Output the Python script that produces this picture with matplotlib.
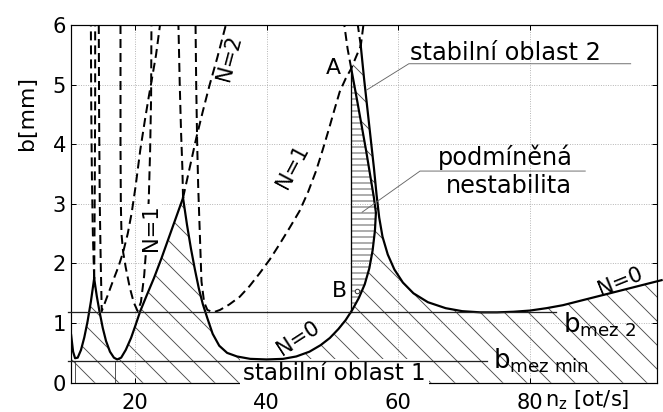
import matplotlib.pyplot as plt
import numpy as np

plt.rcParams['font.family'] = ['DejaVu Sans']
plt.rcParams['hatch.linewidth'] = 0.9

# plne ciary - hranice stability (laloky)
s1_x = [10.3, 10.6, 10.9, 11.3, 11.8, 12.3, 12.8, 13.3, 13.8]
s1_b = [0.80, 0.52, 0.41, 0.42, 0.55, 0.76, 1.03, 1.36, 1.75]

s2_x = [13.8, 14.2, 14.6, 15.1, 15.6, 16.2, 16.8, 17.3, 17.9, 18.6, 19.4, 20.1,
        20.8, 21.8, 22.9, 24.0, 25.1, 26.2, 27.3]
s2_b = [1.75, 1.45, 1.20, 0.92, 0.70, 0.52, 0.42, 0.39, 0.42, 0.55, 0.75, 0.97,
        1.20, 1.47, 1.76, 2.08, 2.42, 2.76, 3.10]

s3_x = [27.3, 27.9, 28.5, 29.1, 29.7, 30.3, 31.0, 31.8, 32.8, 34.0, 35.5, 37.5,
        40.0, 42.5, 44.5, 46.5, 48.2, 49.6, 50.9, 52.0, 53.0, 54.0, 54.9, 55.6,
        56.1, 56.45, 56.6, 56.3, 55.7, 55.1, 54.45, 53.8, 53.3, 52.85]
s3_b = [3.10, 2.65, 2.25, 1.90, 1.58, 1.32, 1.08, 0.82, 0.62, 0.50, 0.44, 0.40,
        0.39, 0.40, 0.44, 0.52, 0.63, 0.75, 0.90, 1.05, 1.22, 1.42, 1.65, 1.92,
        2.22, 2.55, 2.85, 3.10, 3.50, 3.90, 4.30, 4.70, 5.00, 5.27]

s4_x = [54.3, 54.8, 55.3, 55.8, 56.3, 56.7, 57.1, 57.6, 58.4, 59.4, 60.7, 62.3,
        64.5, 67.2, 69.7, 72.5, 75.0, 77.5, 80.0, 82.5, 85.0, 87.5, 90.0, 92.5,
        95.0, 97.5, 100.0]
s4_b = [5.65, 5.10, 4.60, 4.10, 3.60, 3.15, 2.77, 2.45, 2.15, 1.90, 1.68, 1.50,
        1.35, 1.25, 1.20, 1.18, 1.18, 1.19, 1.21, 1.25, 1.30, 1.37, 1.44, 1.51,
        1.58, 1.65, 1.72]

# prerusovane ciary
dashed = [
    ([13.8, 13.6, 13.45, 13.35, 13.3], [1.75, 2.5, 3.5, 4.7, 6.0]),
    ([13.8, 13.85, 13.9, 13.95, 13.95], [1.75, 2.5, 3.5, 4.7, 6.0]),
    ([14.5, 14.55, 14.65, 14.8, 14.95, 15.8, 16.7, 17.5, 18.2, 18.9, 19.5, 20.1,
      20.8, 21.5, 22.1, 22.5, 23.2, 23.8],
     [6.0, 4.5, 3.0, 2.0, 1.2, 1.45, 1.72, 1.95, 2.19, 2.5, 2.85, 3.3,
      3.9, 4.4, 4.8, 5.05, 5.5, 6.0]),
    ([17.8, 17.8, 17.85, 17.95, 18.2, 18.6, 19.2, 19.8, 20.4, 20.9, 21.4, 21.8,
      22.1, 22.3, 22.45, 22.5],
     [6.0, 4.0, 3.0, 2.5, 2.19, 1.93, 1.6, 1.35, 1.2, 1.35, 1.8, 2.4,
      3.1, 3.9, 4.8, 6.0]),
    ([27.3, 27.2, 27.0, 26.8, 26.6], [3.1, 3.6, 4.2, 5.0, 6.0]),
    ([27.3, 27.7, 28.4, 29.3, 30.3, 31.3, 32.5, 33.8],
     [3.1, 3.3, 3.65, 4.1, 4.55, 4.98, 5.45, 6.0]),
    ([29.2, 29.3, 29.45, 29.6, 29.85, 30.1, 30.5, 31.0, 31.9, 32.9, 34.3, 35.9,
      37.4, 38.9, 40.5, 42.0, 43.5, 45.0, 46.3, 47.5, 48.5, 49.5, 50.3, 51.1,
      52.0, 52.85, 53.6, 54.3, 54.7],
     [6.0, 5.0, 4.0, 3.3, 2.5, 1.7, 1.35, 1.22, 1.18, 1.22, 1.31, 1.44,
      1.62, 1.83, 2.07, 2.33, 2.6, 2.88, 3.2, 3.55, 3.9, 4.27, 4.58, 4.88,
      5.1, 5.27, 5.47, 5.65, 6.0]),
    ([52.85, 52.3, 51.8], [5.27, 5.6, 6.0]),
    ([54.3, 53.85], [5.65, 6.0]),
]

b_mez_min = 0.37
b_mez_2 = 1.18
ab_x = 52.85          # ciara A-B
b_point = (53.8, 1.53)
lobe_min_x = [10.9, 17.0, 39.0]

fig = plt.figure(figsize=(663 / 72, 412 / 72), dpi=72)
ax = fig.add_axes([71 / 663, 1 - 382.7 / 412, (657 - 71) / 663, (382.7 - 25) / 412])

# stabilna oblast - sikme srafovanie
px = [10.3] + s1_x + s2_x[1:] + s3_x[1:] + s4_x + [100.0, 10.3]
py = [0.0] + s1_b + s2_b[1:] + s3_b[1:] + s4_b + [0.0, 0.0]
ax.fill(px, py, facecolor='none', edgecolor='#4d4d4d', hatch='\\', linewidth=0, zorder=1)

# podmienena nestabilita - vodorovne srafovanie
s3x = np.array(s3_x)
s3b = np.array(s3_b)
mask = s3x >= ab_x
hx = [ab_x] + list(s3x[mask]) + [ab_x]
hy = [s3b[mask][0]] + list(s3b[mask]) + [s3b[mask][-1]]
ax.fill(hx, hy, facecolor='none', edgecolor='#4d4d4d', hatch='--', linewidth=0, zorder=1)

for xs, bs in [(s1_x, s1_b), (s2_x, s2_b), (s3_x, s3_b)]:
    ax.plot(xs, bs, color='black', lw=2.2, zorder=4)
ax.plot(s4_x, s4_b, color='black', lw=2.2, zorder=4, clip_on=False)

for xs, bs in dashed:
    ax.plot(xs, bs, color='black', lw=2.0, dashes=(4.5, 2.5), zorder=4)

ax.plot([9.8, 84.0], [b_mez_2, b_mez_2], color='#222222', lw=1.3, zorder=5, clip_on=False)
ax.plot([9.8, 73.4], [b_mez_min, b_mez_min], color='#222222', lw=1.3, zorder=5, clip_on=False)
ax.plot([ab_x, ab_x], [b_mez_2, s3_b[-1]], color='black', lw=1.3, zorder=5)
for xm in lobe_min_x:
    ax.plot([xm, xm], [0, b_mez_min], color='#444444', lw=0.9, zorder=2)
ax.plot(*b_point, 'o', ms=4.5, mfc='white', mec='#333333', mew=1.0, zorder=6)

# popisy
ax.text(50.1, 5.28, 'A', fontsize=22, ha='center', va='center', zorder=6)
ax.text(51.0, 1.54, 'B', fontsize=22, ha='center', va='center', zorder=6)
ax.text(61.8, 5.42, 'stabilní oblast 2', fontsize=24, ha='left', va='baseline', zorder=6)
ax.plot([55.2, 61.6, 95.3], [4.91, 5.35, 5.35], color='#666666', lw=0.9, zorder=6)
ax.text(76.3, 3.66, 'podmíněná', fontsize=24, ha='center', va='baseline', zorder=6)
ax.text(76.8, 3.19, 'nestabilita', fontsize=24, ha='center', va='baseline', zorder=6)
ax.plot([54.5, 63.3, 88.4], [2.86, 3.55, 3.55], color='#666666', lw=0.9, zorder=6)
ax.text(50.3, 0.05, 'stabilní oblast 1', fontsize=23, ha='center', va='baseline', zorder=3,
        bbox=dict(facecolor='white', edgecolor='none', pad=3))
ax.text(85.0, 0.85, r'$\mathregular{b_{mez\ 2}}$', fontsize=26, ha='left', va='baseline', zorder=6)
ax.text(74.4, 0.24, r'$\mathregular{b_{mez\ min}}$', fontsize=26, ha='left', va='baseline', zorder=6)

ax.text(34.3, 5.45, 'N=2', fontsize=21, rotation=75, ha='center', va='center', zorder=6)
ax.text(22.5, 2.6, 'N=1', fontsize=21, rotation=90, ha='center', va='center', zorder=6,
        bbox=dict(facecolor='white', edgecolor='none', pad=0))
ax.text(44.0, 3.62, 'N=1', fontsize=21, rotation=62, ha='center', va='center', zorder=6)
ax.text(44.8, 0.75, 'N=0', fontsize=21, rotation=33, ha='center', va='center', zorder=6)
ax.text(93.7, 1.69, 'N=0', fontsize=21, rotation=22, ha='center', va='center', zorder=6)

ax.set_xlim(10.28, 99.3)
ax.set_ylim(0, 6)
ax.set_xticks([20, 40, 60, 80])
ax.set_yticks([0, 1, 2, 3, 4, 5, 6])
ax.grid(True, linestyle=':', color='#aaaaaa', lw=0.9)
ax.set_axisbelow(True)
ax.tick_params(direction='in', length=5, top=True, right=True, labelsize=21, width=1)
ax.tick_params(axis='x', pad=10)
ax.tick_params(axis='y', pad=5)
for sp in ax.spines.values():
    sp.set_linewidth(1.2)

fig.text(27 / 663, 1 - 113 / 412, 'b[mm]', fontsize=22, rotation=90, ha='center', va='center')
fig.text(545 / 663, 1 - 406 / 412, r'$\mathregular{n_z\ [ot/s]}$', fontsize=21,
         ha='left', va='baseline')

fig.savefig('out.png', dpi=72)
